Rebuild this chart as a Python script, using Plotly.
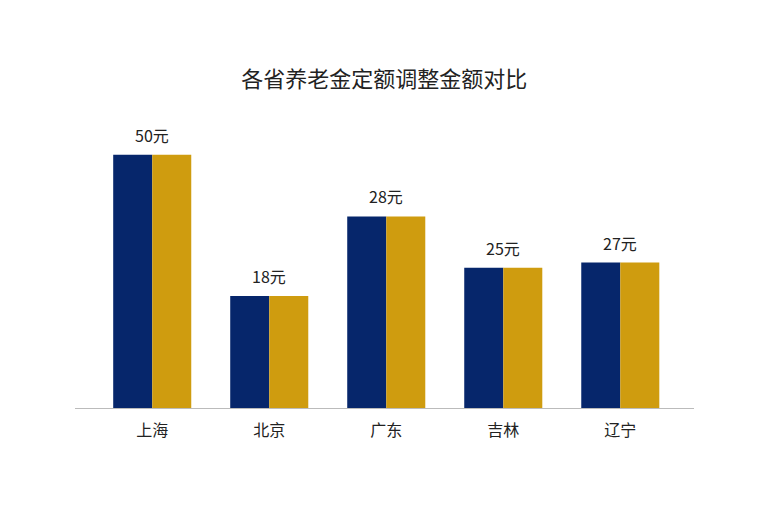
import plotly.graph_objects as go

provinces = ["上海", "北京", "广东", "吉林", "辽宁"]
bar_values = [50, 22.1, 37.8, 27.7, 28.7]
label_texts = ["50元", "18元", "28元", "25元", "27元"]

navy = "#06266B"
gold = "#CF9C0F"

fig = go.Figure()
fig.add_trace(go.Bar(x=provinces, y=bar_values, marker=dict(color=navy, line=dict(width=0)),
                     showlegend=False, hoverinfo="skip"))
fig.add_trace(go.Bar(x=provinces, y=bar_values, marker=dict(color=gold, line=dict(width=0)),
                     showlegend=False, hoverinfo="skip"))

for p, v, t in zip(provinces, bar_values, label_texts):
    fig.add_annotation(x=p, y=v, text=t, showarrow=False, yanchor="bottom", yshift=6,
                       font=dict(size=16, color="#222222"))

fig.update_layout(
    width=768, height=512,
    margin=dict(l=67, r=82, t=96, b=112),
    paper_bgcolor="white", plot_bgcolor="white",
    font=dict(family="Noto Sans CJK SC", color="#222222"),
    title=dict(text="各省养老金定额调整金额对比", x=0.49, xanchor="center", y=0.86, yanchor="middle",
               font=dict(size=22, color="#222222")),
    barmode="group", bargap=0.333, bargroupgap=0,
    xaxis=dict(range=[-0.66, 4.63], showline=True, linecolor="#BBBBBB", linewidth=1,
               ticks="", showgrid=False, tickfont=dict(size=16, color="#222222"), ticklabelstandoff=8),
    yaxis=dict(range=[0, 60], showticklabels=False, showgrid=False, zeroline=False, ticks=""),
)
fig.write_html("out.html")
